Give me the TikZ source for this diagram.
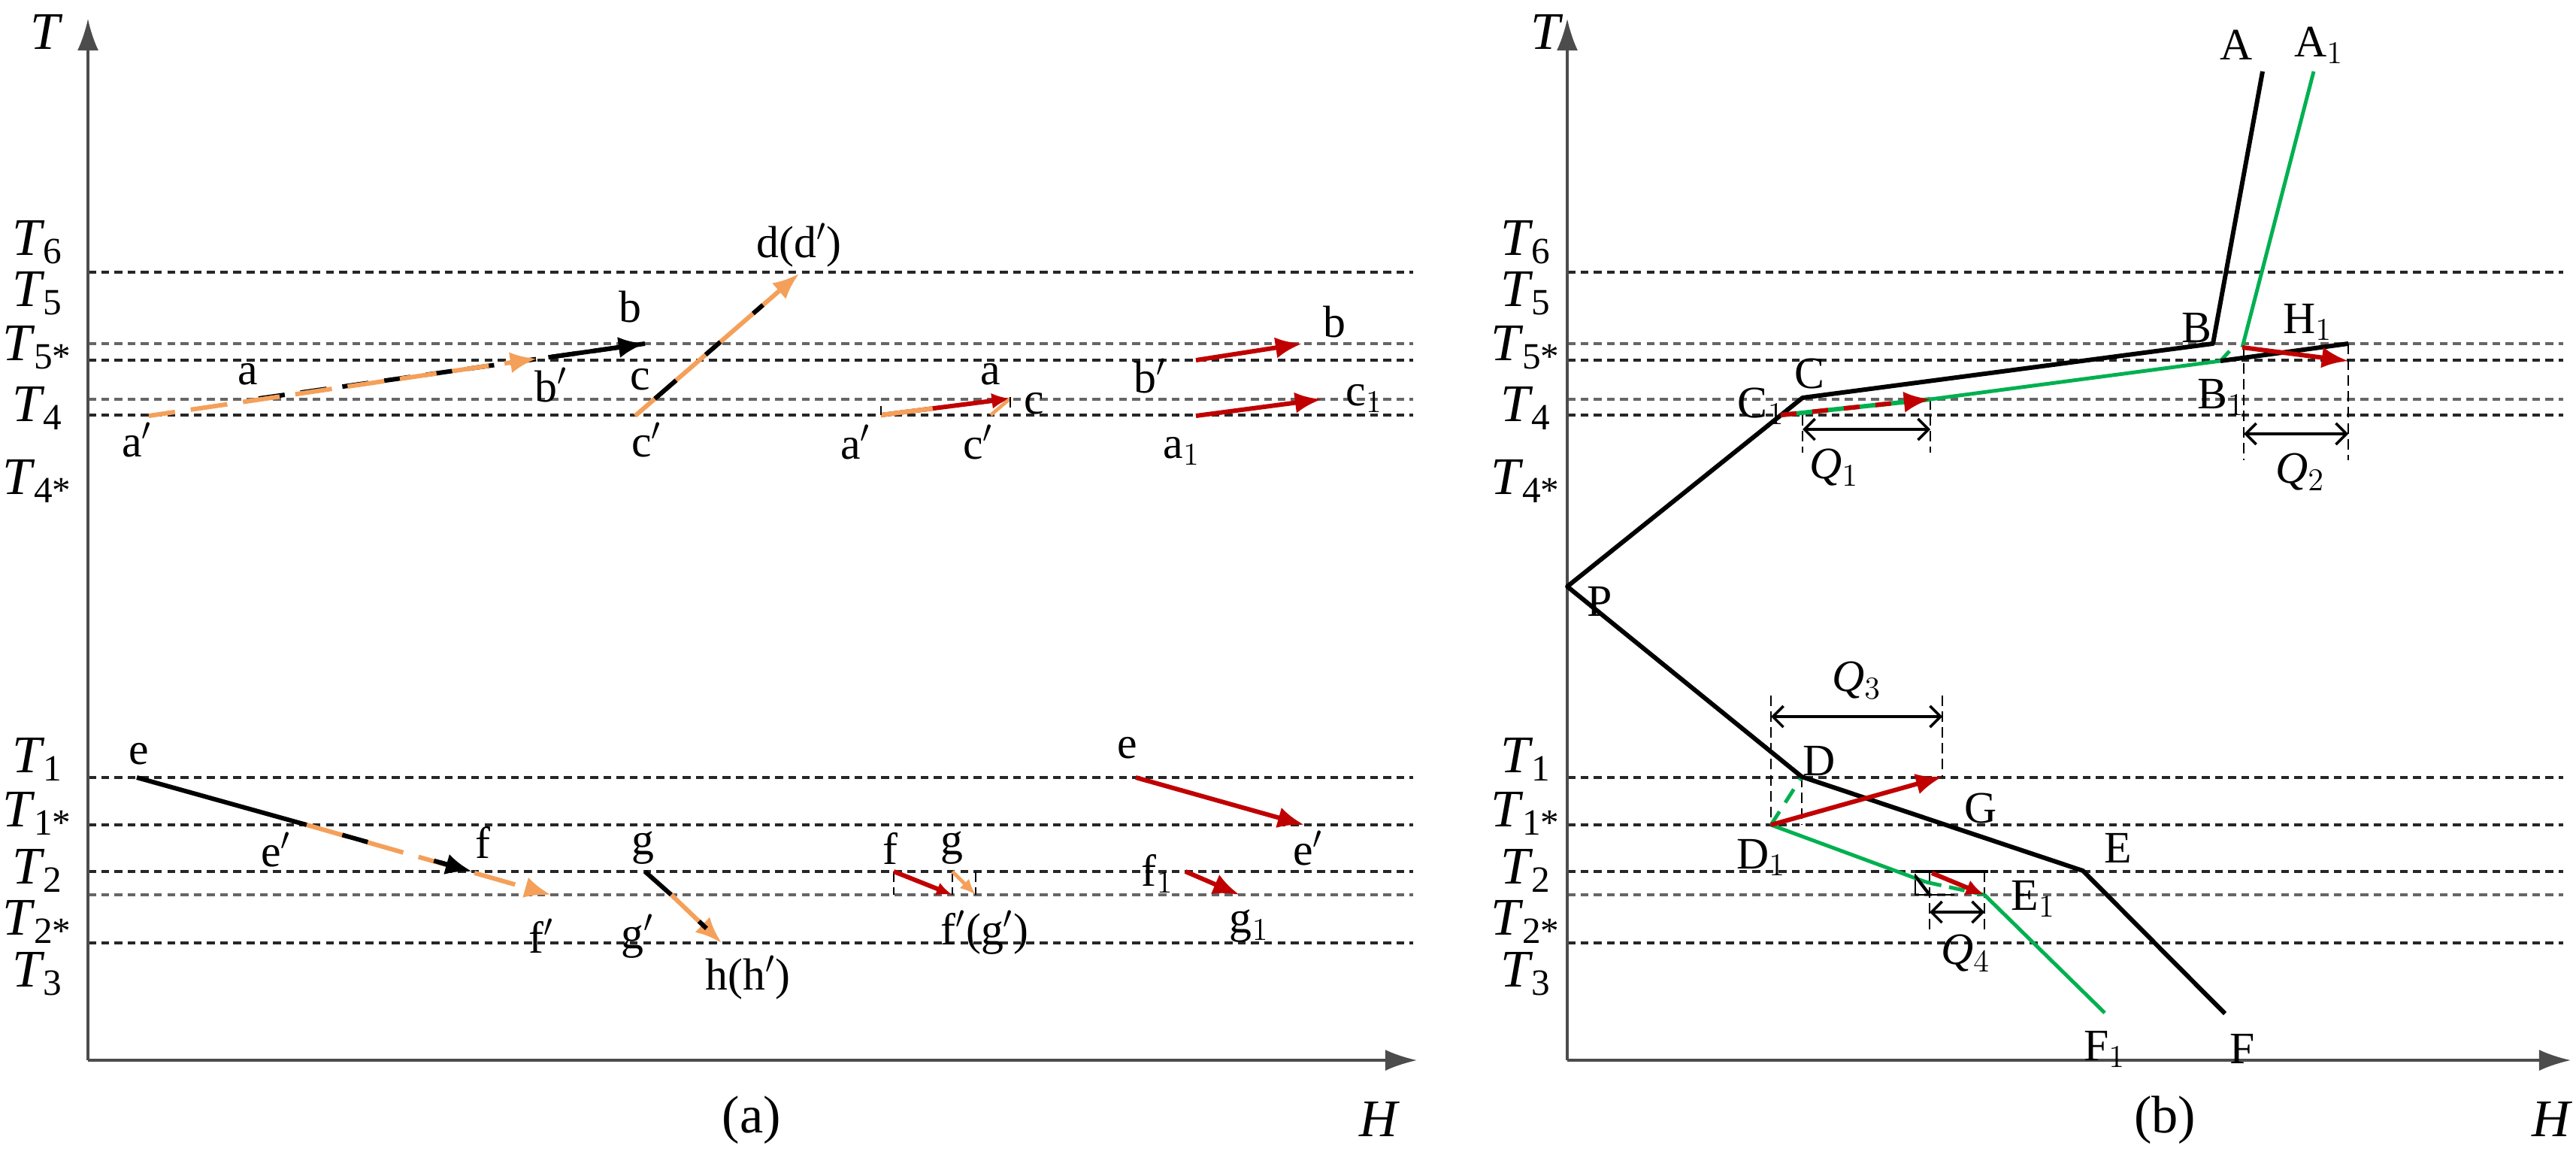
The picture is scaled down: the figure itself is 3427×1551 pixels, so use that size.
\documentclass[tikz,border=0pt]{standalone}
\usepackage{fontspec}
\setmainfont{Liberation Serif}
\usetikzlibrary{arrows.meta,calc}
\definecolor{org}{RGB}{244,160,90}
\definecolor{dred}{RGB}{192,0,0}
\definecolor{grn}{RGB}{0,176,80}
\newcommand{\Tsub}[1]{\textit{T}\kern-0.5pt\textsubscript{#1}}
\tikzset{
 guide/.style={line width=0.9pt,dash pattern=on 3pt off 2pt,black!85},
 gguide/.style={line width=1.1pt,dash pattern=on 3pt off 2pt,black!60},
 axis/.style={line width=0.9pt,black!70,-{Latex[length=12pt,width=8pt]}},
 tip/.style={-{Latex[length=10pt,width=8pt]}},
 blk/.style={line width=1.7pt,black},
 oar/.style={line width=1.7pt,org,tip},
 rar/.style={line width=1.7pt,dred,tip},
 gr/.style={line width=1.4pt,grn},
 lab/.style={font=\fontsize{17}{17}\selectfont,inner sep=0pt},
 tl/.style={font=\fontsize{20}{20}\selectfont,inner sep=0pt},
 dim/.style={line width=0.5pt,dash pattern=on 4pt off 2pt},
 dimar/.style={line width=1pt,{Straight Barb[length=4pt]}-{Straight Barb[length=4pt]}},
}
\begin{document}
\begin{tikzpicture}[x=0.01cm,y=-0.01cm]
\useasboundingbox (0,0) rectangle (3427,1551);
% guide lines
\foreach \xa/\xb in {117/1880,2085/3410}{
 \draw[guide] (\xa,362) -- (\xb,362);
 \draw[gguide] (\xa,457) -- (\xb,457);
 \draw[guide] (\xa,479) -- (\xb,479);
 \draw[gguide] (\xa,531) -- (\xb,531);
 \draw[guide] (\xa,552) -- (\xb,552);
 \draw[guide] (\xa,1034) -- (\xb,1034);
 \draw[guide] (\xa,1097) -- (\xb,1097);
 \draw[guide] (\xa,1159) -- (\xb,1159);
 \draw[gguide] (\xa,1190) -- (\xb,1190);
 \draw[guide] (\xa,1254) -- (\xb,1254);
}
% axes
\coordinate (O1) at (117,1410); \coordinate (Ty1) at (117,25); \coordinate (Hx1) at (1885,1410);
\coordinate (O2) at (2085,1410); \coordinate (Ty2) at (2085,25); \coordinate (Hx2) at (3420,1410);
\draw[axis] (O1) -- (Ty1); \draw[axis] (O1) -- (Hx1);
\draw[axis] (O2) -- (Ty2); \draw[axis] (O2) -- (Hx2);
\foreach \xx/\s in {50/a,2030/b}{
 \node[tl] (T6\s) at (\xx,322) {\Tsub{6}};
 \node[tl] (T5\s) at (\xx,390) {\Tsub{5}};
 \node[tl] (T5s\s) at (\xx,462) {\Tsub{5*}};
 \node[tl] (T4\s) at (\xx,543) {\Tsub{4}};
 \node[tl] (T4s\s) at (\xx,640) {\Tsub{4*}};
 \node[tl] (T1\s) at (\xx,1010) {\Tsub{1}};
 \node[tl] (T1s\s) at (\xx,1082) {\Tsub{1*}};
 \node[tl] (T2\s) at (\xx,1158) {\Tsub{2}};
 \node[tl] (T2s\s) at (\xx,1226) {\Tsub{2*}};
 \node[tl] (T3\s) at (\xx,1295) {\Tsub{3}};
}
\node[tl] (TA) at (62,42) {\textit{T}}; \node[tl] (HA) at (1835,1488) {\textit{H}};
\node[tl] (TB) at (2058,42) {\textit{T}}; \node[tl] (HB) at (3395,1488) {\textit{H}};
\node[tl] (capa) at (1000,1490) {(a)}; \node[tl] (capb) at (2880,1490) {(b)};
% ---------- panel (a) upper
\coordinate (ap) at (198,553); \coordinate (bp) at (714,477);
\coordinate (a0) at (344,530); \coordinate (b0) at (858,457);
\draw[line width=1.7pt,dash pattern=on 10pt off 6pt] (a0) -- (b0);
\draw[line width=1.7pt,-{Latex[length=10pt,width=8pt]}] ($(a0)!0.75!(b0)$) -- (b0);
\draw[oar,dash pattern=on 14pt off 6pt,dash phase=4pt] (ap) -- (bp);
\coordinate (cp) at (845,553); \coordinate (dd) at (1063,364);
\draw[oar] (cp) -- (dd);
\draw[line width=1.7pt] ($(cp)!0.12!(dd)$) -- ($(cp)!0.25!(dd)$);
\draw[line width=1.7pt] ($(cp)!0.43!(dd)$) -- ($(cp)!0.52!(dd)$);
\draw[line width=1.7pt] ($(cp)!0.72!(dd)$) -- ($(cp)!0.78!(dd)$);
\node[lab] (la) at (330,498) {a}; \node[lab] (lap) at (182,585) {a$'$};
\node[lab] (lb) at (838,408) {b}; \node[lab] (lbp) at (733,512) {b$'$};
\node[lab] (lc) at (852,505) {c}; \node[lab] (lcp) at (860,585) {c$'$};
\node[lab] (ld) at (1063,326) {d(d$'$)};
% middle
\coordinate (ma) at (1172,552); \coordinate (mc) at (1344,530); \coordinate (mcp) at (1318,552);
\draw[rar,-{Latex[length=7pt,width=6pt]}] (ma) -- (mc);
\draw[line width=1.7pt,org] (ma) -- ($(ma)!0.4!(mc)$);
\draw[line width=1.3pt,org] (mcp) -- (mc);
\draw[dim] (1172,540) -- (1172,552); \draw[dim] (1344,528) -- (1344,545);
\node[lab] (mla) at (1318,498) {a}; \node[lab] (mlap) at (1138,588) {a$'$};
\node[lab] (mlc) at (1376,537) {c}; \node[lab] (mlcp) at (1301,588) {c$'$};
% right
\coordinate (rbp) at (1591,479); \coordinate (rb) at (1732,457);
\coordinate (ra1) at (1591,553); \coordinate (rc1) at (1758,531);
\draw[rar] (rbp) -- (rb); \draw[rar] (ra1) -- (rc1);
\node[lab] (rlb) at (1775,428) {b}; \node[lab] (rlbp) at (1530,500) {b$'$};
\node[lab] (rlc1) at (1815,530) {c$_1$}; \node[lab] (rla1) at (1572,600) {a$_1$};
% ---------- panel (a) lower
\coordinate (e0) at (182,1034); \coordinate (ep) at (408,1097);
\coordinate (f0) at (628,1159); \coordinate (fp) at (733,1190);
\draw[line width=1.7pt] (e0) -- (ep);
\draw[oar,dash pattern=on 16pt off 6pt] (ep) -- (fp);
\draw[line width=1.7pt,dash pattern=on 0pt off 14pt on 10pt off 12pt] (ep) -- (f0);
\draw[line width=1.7pt,-{Latex[length=10pt,width=8pt]}] ($(ep)!0.8!(f0)$) -- (f0);
\coordinate (g0) at (858,1159); \coordinate (gp) at (893,1190); \coordinate (hh) at (960,1254);
\draw[line width=1.7pt] (g0) -- (gp);
\draw[oar] (gp) -- (hh);
\draw[line width=1.7pt] ($(gp)!0.55!(hh)$) -- ($(gp)!0.7!(hh)$);
\node[lab] (le) at (185,1003) {e}; \node[lab] (lep) at (367,1130) {e$'$};
\node[lab] (lf) at (642,1120) {f}; \node[lab] (lfp) at (720,1245) {f$'$};
\node[lab] (lg) at (855,1128) {g}; \node[lab] (lgp) at (848,1245) {g$'$};
\node[lab] (lh) at (995,1300) {h(h$'$)};
% middle lower
\coordinate (mf) at (1189,1159); \coordinate (mfp) at (1267,1190);
\coordinate (mg) at (1267,1159); \coordinate (mgp) at (1298,1190);
\draw[dim] (1189,1159) -- (1189,1190); \draw[dim] (1267,1159) -- (1267,1190); \draw[dim] (1298,1159) -- (1298,1190);
\draw[rar,-{Latex[length=6pt,width=5pt]}] (mf) -- (mfp);
\draw[line width=1.4pt,org,-{Latex[length=6pt,width=5pt]}] (mg) -- (mgp);
\node[lab] (mlf) at (1184,1128) {f}; \node[lab] (mlg) at (1266,1128) {g};
\node[lab] (mlfg) at (1310,1240) {f$'$(g$'$)};
% right lower
\coordinate (re) at (1511,1034); \coordinate (rep) at (1735,1097);
\coordinate (rf1) at (1577,1159); \coordinate (rg1) at (1649,1190);
\draw[rar] (re) -- (rep); \draw[rar] (rf1) -- (rg1);
\node[lab] (rle) at (1500,995) {e}; \node[lab] (rlep) at (1740,1128) {e$'$};
\node[lab] (rlf1) at (1540,1162) {f$_1$}; \node[lab] (rlg1) at (1662,1232) {g$_1$};
% ---------- panel (b)
\coordinate (A) at (3010,95); \coordinate (B) at (2944,457);
\coordinate (C) at (2398,529); \coordinate (P) at (2085,780);
\coordinate (D) at (2397,1033); \coordinate (E) at (2771,1158); \coordinate (F) at (2960,1348);
\coordinate (A1) at (3078,95); \coordinate (B1) at (2954,480); \coordinate (B1t) at (2983,462);
\coordinate (C1) at (2369,552); \coordinate (Q1e) at (2568,531);
\coordinate (D1) at (2356,1097); \coordinate (G) at (2584,1033);
\coordinate (Eg) at (2562,1173); \coordinate (E1) at (2640,1190); \coordinate (F1) at (2800,1347);
\coordinate (H1) at (3124,457); \coordinate (H1r) at (3124,480);
% dims
\draw[dim] (2398,552) -- (2398,602); \draw[dim] (2568,531) -- (2568,602);
\draw[dimar] (2398,571) -- (2568,571);
\draw[dim] (2985,462) -- (2985,612); \draw[dim] (3124,457) -- (3124,612);
\draw[dimar] (2985,577) -- (3124,577);
\draw[dim] (2356,925) -- (2356,1097); \draw[dim] (2584,925) -- (2584,1033);
\draw[dim] (2397,1033) -- (2397,1097);
\draw[dimar] (2356,953) -- (2584,953);
\draw[dim] (2567,1159) -- (2567,1242); \draw[dim] (2640,1159) -- (2640,1242);
\draw[dimar] (2567,1213) -- (2640,1213);
\draw[line width=1.2pt] (2548,1159) -- (2645,1159);
\draw[line width=0.8pt] (2548,1162) -- (2548,1190) -- (2600,1190);
% green
\draw[gr] (A1) -- (B1t);
\draw[gr] (Q1e) -- (B1) -- (2966,467);
\draw[gr,dash pattern=on 6pt off 4pt] (D1) -- (D);
\draw[gr] (D1) -- (Eg);
\draw[gr,dash pattern=on 6pt off 3pt] (Eg) -- (E1);
\draw[gr] (E1) -- (F1);
% black
\draw[blk,line join=round] (A) -- (B) -- (C) -- (P) -- (D) -- (E) -- (F);
\draw[blk] (B1) -- (H1);
\draw[line width=1.2pt] (2548,1165) -- (2567,1190);
% red
\draw[gr,line width=1.7pt] (C1) -- (Q1e);
\draw[rar,dash pattern=on 6pt off 6pt] (C1) -- (Q1e);
\draw[rar] (B1t) -- (H1r);
\draw[rar] (D1) -- (G);
\draw[rar,-{Latex[length=7pt,width=6pt]}] (2570,1161) -- (E1);
% labels
\node[lab] (lA) at (2975,60) {A}; \node[lab] (lA1) at (3085,60) {A$_1$};
\node[lab] (lB) at (2922,436) {B}; \node[lab] (lB1) at (2955,528) {B$_1$};
\node[lab] (lH1) at (3070,428) {H$_1$};
\node[lab] (lC) at (2407,497) {C}; \node[lab] (lC1) at (2343,540) {C$_1$};
\node[lab] (lP) at (2128,800) {P};
\node[lab] (lD) at (2420,1012) {D}; \node[lab] (lD1) at (2343,1140) {D$_1$};
\node[lab] (lG) at (2635,1075) {G}; \node[lab] (lE) at (2818,1128) {E};
\node[lab] (lE1) at (2705,1195) {E$_1$};
\node[lab] (lF1) at (2800,1395) {F$_1$}; \node[lab] (lF) at (2983,1395) {F};
\node[lab] (lQ1) at (2440,622) {\textit{Q}$_1$}; \node[lab] (lQ2) at (3060,628) {\textit{Q}$_2$};
\node[lab] (lQ3) at (2470,905) {\textit{Q}$_3$}; \node[lab] (lQ4) at (2615,1268) {\textit{Q}$_4$};
\end{tikzpicture}
\end{document}
